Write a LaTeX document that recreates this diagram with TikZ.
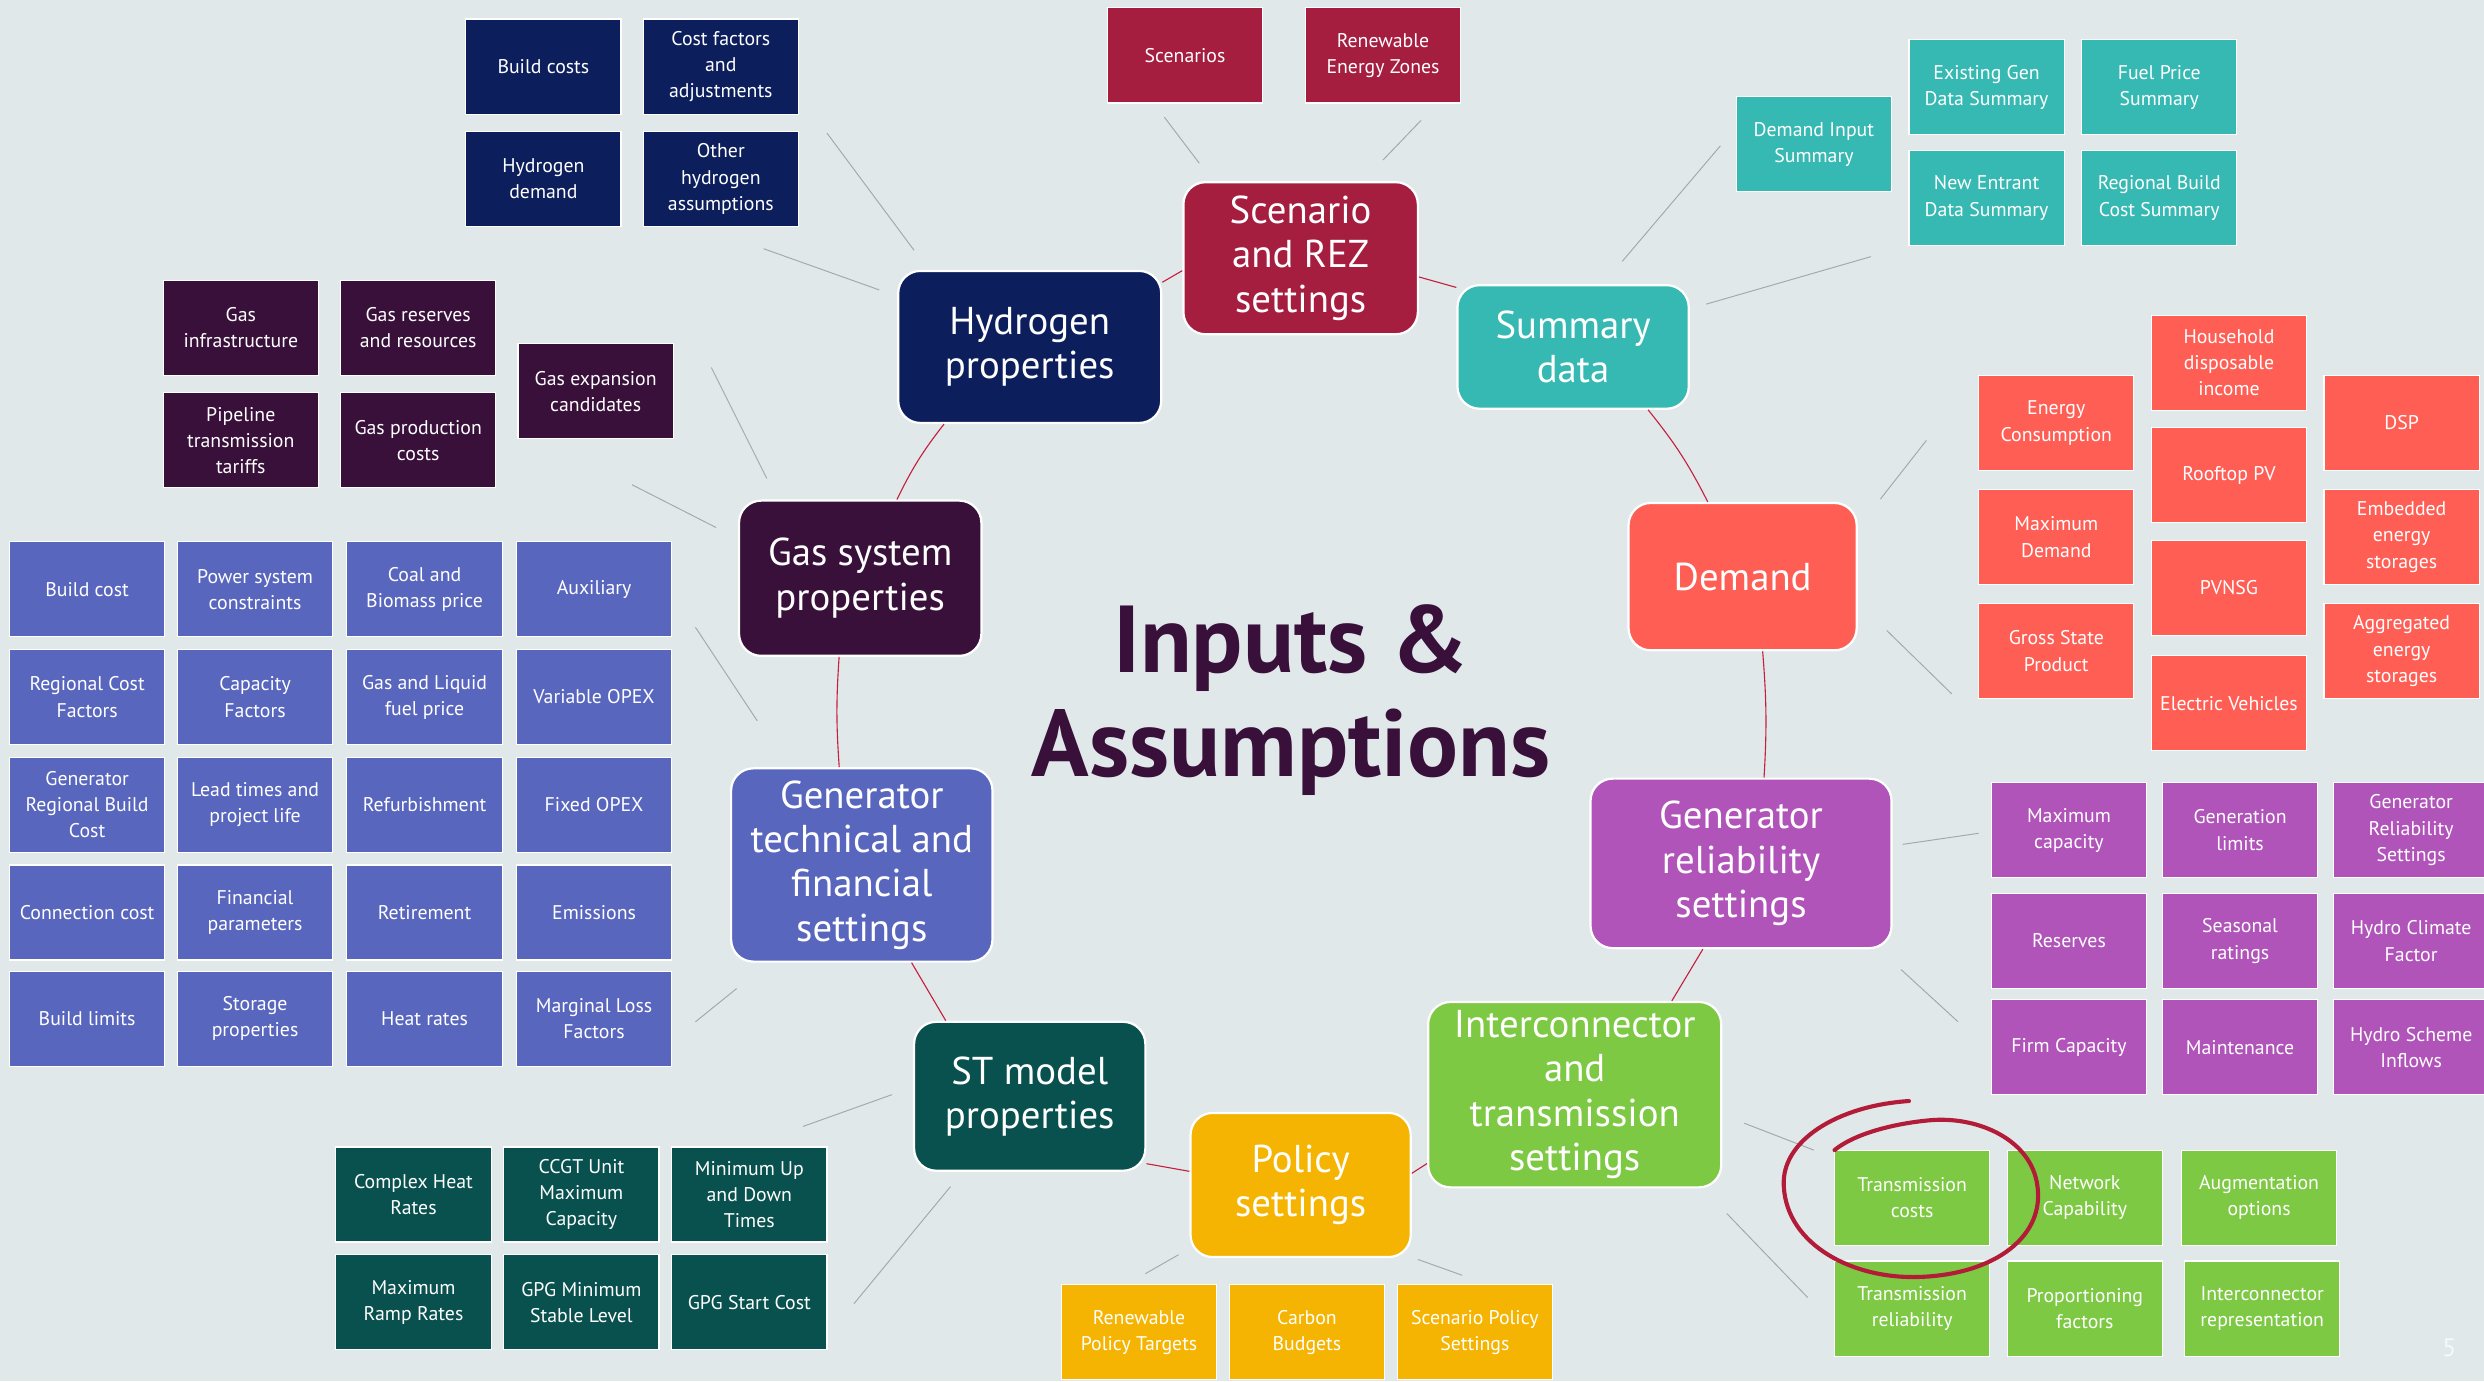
\documentclass[tikz,border=0pt]{standalone}
\usepackage{fontspec}
\setmainfont{PT Sans}

\definecolor{bgc}{HTML}{E0E8EA}
\definecolor{hydc}{HTML}{0C1F5C}
\definecolor{scnc}{HTML}{A51D3F}
\definecolor{sumc}{HTML}{36B9B2}
\definecolor{demc}{HTML}{FF5E55}
\definecolor{relc}{HTML}{B054BA}
\definecolor{intc}{HTML}{7DC943}
\definecolor{polc}{HTML}{F5B401}
\definecolor{stc}{HTML}{09514E}
\definecolor{tecc}{HTML}{5966BE}
\definecolor{gasc}{HTML}{38103A}
\definecolor{ringc}{HTML}{C61F3E}
\definecolor{spokec}{HTML}{A3A8AA}

\tikzset{
	hub/.style={fill=#1, rounded corners=14pt, draw=white, line width=1.4pt, text=white,
		align=center, inner sep=0pt, font=\fontsize{24.5}{28}\selectfont},
	leaf/.style={fill=#1, draw=white, line width=0.7pt, text=white, align=center,
		minimum width=98pt, minimum height=60pt, inner sep=0pt,
		font=\fontsize{12.5}{16.5}\selectfont},
	ring/.style={draw=ringc, line width=0.7pt},
	spoke/.style={draw=spokec, line width=0.6pt},
}

\begin{document}
\begin{tikzpicture}[x=1pt, y=-1pt]
			\useasboundingbox (0,0) rectangle (1568,872);
			\fill[bgc] (0,0) rectangle (1568,872);

			% hubs
			\node[hub=hydc, minimum width=166pt, minimum height=96pt] (hyd) at (650,219) {Hydrogen\\properties};
			\node[hub=scnc, minimum width=148pt, minimum height=96pt] (scn) at (821,163) {Scenario\\and REZ\\settings};
			\node[hub=sumc, minimum width=146pt, minimum height=78pt] (sum) at (993,219) {Summary\\data};
			\node[hub=demc, minimum width=144pt, minimum height=93pt] (dem) at (1100,364) {Demand};
			\node[hub=relc, minimum width=190pt, minimum height=107pt] (rel) at (1099,545) {Generator\\reliability\\settings};
			\node[hub=intc, minimum width=185pt, minimum height=117pt] (int) at (994,691) {Interconnector\\and\\transmission\\settings};
			\node[hub=polc, minimum width=139pt, minimum height=91pt] (pol) at (821,748) {Policy\\settings};
			\node[hub=stc, minimum width=146pt, minimum height=94pt] (st) at (650,692) {ST model\\properties};
			\node[hub=tecc, minimum width=165pt, minimum height=122pt] (tec) at (544,546) {Generator\\technical and\\financial\\settings};
			\node[hub=gasc, minimum width=153pt, minimum height=98pt] (gas) at (543,365) {Gas system\\properties};

			\node[text=gasc, align=center, font=\fontsize{60}{66}\bfseries\selectfont] (title) at (815,442) {Inputs \&\\Assumptions};

			% ring between the hubs
			\draw[ring] (hyd.26) -- (scn.-174);
			\draw[ring] (scn.-9) -- (sum.153);
			\draw[ring] (sum.-40) to[bend left=6] (dem.115);
			\draw[ring] (dem.-75) to[bend left=4] (rel.75);
			\draw[ring] (rel.-114) -- (int.44);
			\draw[ring] (int.205) -- (pol.6);
			\draw[ring] (pol.173) -- (st.-30);
			\draw[ring] (st.138) -- (tec.-63);
			\draw[ring] (tec.103) to[bend left=4] (gas.-105);
			\draw[ring] (gas.65) to[bend left=6] (hyd.-138);

			% hydrogen
			\node[leaf=hydc] (hbuild) at (343,42) {Build costs};
			\node[leaf=hydc] (hcost) at (455,42) {Cost factors\\and\\adjustments};
			\node[leaf=hydc] (hdem) at (343,113) {Hydrogen\\demand};
			\node[leaf=hydc] (hother) at (455,113) {Other\\hydrogen\\assumptions};

			% scenario
			\node[leaf=scnc] (sscen) at (748,35) {Scenarios};
			\node[leaf=scnc] (srez) at (873,35) {Renewable\\Energy Zones};

			% summary
			\node[leaf=sumc] (udem) at (1145,91) {Demand Input\\Summary};
			\node[leaf=sumc] (uexist) at (1254,55) {Existing Gen\\Data Summary};
			\node[leaf=sumc] (ufuel) at (1363,55) {Fuel Price\\Summary};
			\node[leaf=sumc] (unew) at (1254,125) {New Entrant\\Data Summary};
			\node[leaf=sumc] (ureg) at (1363,125) {Regional Build\\Cost Summary};

			% demand
			\node[leaf=demc] (denergy) at (1298,267) {Energy\\Consumption};
			\node[leaf=demc] (dmax) at (1298,339) {Maximum\\Demand};
			\node[leaf=demc] (dgsp) at (1298,411) {Gross State\\Product};
			\node[leaf=demc] (dhouse) at (1407,229) {Household\\disposable\\income};
			\node[leaf=demc] (droof) at (1407,300) {Rooftop PV};
			\node[leaf=demc] (dpvnsg) at (1407,371) {PVNSG};
			\node[leaf=demc] (dev) at (1407,444) {Electric Vehicles};
			\node[leaf=demc] (ddsp) at (1516,267) {DSP};
			\node[leaf=demc] (dembed) at (1516,339) {Embedded\\energy\\storages};
			\node[leaf=demc] (daggr) at (1516,411) {Aggregated\\energy\\storages};

			% generator reliability
			\node[leaf=relc] (rmax) at (1306,524) {Maximum\\capacity};
			\node[leaf=relc] (rlim) at (1414,524) {Generation\\limits};
			\node[leaf=relc] (rset) at (1522,524) {Generator\\Reliability\\Settings};
			\node[leaf=relc] (rres) at (1306,594) {Reserves};
			\node[leaf=relc] (rseas) at (1414,594) {Seasonal\\ratings};
			\node[leaf=relc] (rclim) at (1522,594) {Hydro Climate\\Factor};
			\node[leaf=relc] (rfirm) at (1306,661) {Firm Capacity};
			\node[leaf=relc] (rmaint) at (1414,661) {Maintenance};
			\node[leaf=relc] (rinfl) at (1522,661) {Hydro Scheme\\Inflows};

			% interconnector
			\node[leaf=intc] (itcost) at (1207,756) {Transmission\\costs};
			\node[leaf=intc] (inet) at (1316,756) {Network\\Capability};
			\node[leaf=intc] (iaug) at (1426,756) {Augmentation\\options};
			\node[leaf=intc] (itrel) at (1207,826) {Transmission\\reliability};
			\node[leaf=intc] (iprop) at (1316,826) {Proportioning\\factors};
			\node[leaf=intc] (irep) at (1428,826) {Interconnector\\representation};

			% policy
			\node[leaf=polc] (prpt) at (719,841) {Renewable\\Policy Targets};
			\node[leaf=polc] (pcarb) at (825,841) {Carbon\\Budgets};
			\node[leaf=polc] (pscen) at (931,841) {Scenario Policy\\Settings};

			% st model
			\node[leaf=stc] (tcomp) at (261,754) {Complex Heat\\Rates};
			\node[leaf=stc] (tccgt) at (367,754) {CCGT Unit\\Maximum\\Capacity};
			\node[leaf=stc] (tmin) at (473,754) {Minimum Up\\and Down\\Times};
			\node[leaf=stc] (tramp) at (261,822) {Maximum\\Ramp Rates};
			\node[leaf=stc] (tstab) at (367,822) {GPG Minimum\\Stable Level};
			\node[leaf=stc] (tstart) at (473,822) {GPG Start Cost};

			% gas
			\node[leaf=gasc] (ginfra) at (152,207) {Gas\\infrastructure};
			\node[leaf=gasc] (gres) at (264,207) {Gas reserves\\and resources};
			\node[leaf=gasc] (gpipe) at (152,278) {Pipeline\\transmission\\tariffs};
			\node[leaf=gasc] (gprod) at (264,278) {Gas production\\costs};
			\node[leaf=gasc] (gexp) at (376,247) {Gas expansion\\candidates};

			% generator technical and financial
			\node[leaf=tecc] (c11) at (55,372) {Build cost};
			\node[leaf=tecc] (c12) at (161,372) {Power system\\constraints};
			\node[leaf=tecc] (c13) at (268,372) {Coal and\\Biomass price};
			\node[leaf=tecc] (c14) at (375,372) {Auxiliary};
			\node[leaf=tecc] (c21) at (55,440) {Regional Cost\\Factors};
			\node[leaf=tecc] (c22) at (161,440) {Capacity\\Factors};
			\node[leaf=tecc] (c23) at (268,440) {Gas and Liquid\\fuel price};
			\node[leaf=tecc] (c24) at (375,440) {Variable OPEX};
			\node[leaf=tecc] (c31) at (55,508) {Generator\\Regional Build\\Cost};
			\node[leaf=tecc] (c32) at (161,508) {Lead times and\\project life};
			\node[leaf=tecc] (c33) at (268,508) {Refurbishment};
			\node[leaf=tecc] (c34) at (375,508) {Fixed OPEX};
			\node[leaf=tecc] (c41) at (55,576) {Connection cost};
			\node[leaf=tecc] (c42) at (161,576) {Financial\\parameters};
			\node[leaf=tecc] (c43) at (268,576) {Retirement};
			\node[leaf=tecc] (c44) at (375,576) {Emissions};
			\node[leaf=tecc] (c51) at (55,643) {Build limits};
			\node[leaf=tecc] (c52) at (161,643) {Storage\\properties};
			\node[leaf=tecc] (c53) at (268,643) {Heat rates};
			\node[leaf=tecc] (c54) at (375,643) {Marginal Loss\\Factors};

			% grey spokes from hubs towards their groups
			\foreach \n/\a/\b in {h1/{522,84}/{577,158}, h2/{482,157}/{555,183},
				s1/{735,74}/{757,103}, s2/{897,76}/{873,101},
				u1/{1086,92}/{1024,165}, u2/{1181,162}/{1077,192},
				d1/{1216,278}/{1187,315}, d2/{1191,398}/{1232,438},
				r1/{1201,533}/{1249,526}, r2/{1200,612}/{1236,645},
				i1/{1101,709}/{1145,726}, i2/{1090,766}/{1141,819},
				p1/{744,792}/{723,804}, p2/{895,795}/{923,805},
				t1/{563,691}/{507,711}, t2/{600,749}/{539,823},
				c1/{439,396}/{478,455}, c2/{465,624}/{439,645},
				g1/{449,232}/{484,302}, g2/{399,306}/{452,333}} {
				\coordinate (\n s) at (\a);
				\coordinate (\n e) at (\b);
				\draw[spoke] (\n s) -- (\n e);
			}

			% hand drawn mark
			\draw[ringc!90!black, line width=2.6pt, line cap=round] (1205,695)
				.. controls (1160,698) and (1124,720) .. (1126,749)
				.. controls (1128,786) and (1170,808) .. (1213,806)
				.. controls (1260,804) and (1291,780) .. (1286,748)
				.. controls (1282,720) and (1250,705) .. (1220,707)
				.. controls (1195,709) and (1170,716) .. (1158,726);

			\node[text=white!75!bgc, font=\fontsize{16}{18}\selectfont] (pnum) at (1546,851) {5};
		\end{tikzpicture}
\end{document}
